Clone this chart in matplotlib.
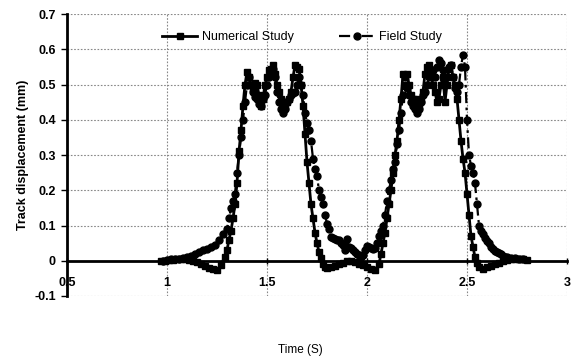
import matplotlib
matplotlib.use("Agg")
import matplotlib.pyplot as plt
from matplotlib import font_manager

fams = [f.name for f in font_manager.fontManager.ttflist]
main_font = "Liberation Sans Narrow" if "Liberation Sans Narrow" in fams else "Liberation Sans"
plt.rcParams['font.family'] = [main_font, 'DejaVu Sans']

num_t = [0.97, 0.99, 1.01, 1.03, 1.05, 1.07, 1.09, 1.11, 1.13, 1.15, 1.17, 1.19, 1.21, 1.23, 1.25, 1.27,
         1.29, 1.30, 1.31, 1.32, 1.33, 1.34, 1.35, 1.36, 1.37, 1.38, 1.39, 1.40, 1.41, 1.42, 1.43, 1.44,
         1.45, 1.46, 1.47, 1.48, 1.49, 1.50, 1.51, 1.52, 1.53, 1.54, 1.55, 1.56, 1.57, 1.58, 1.59, 1.60,
         1.61, 1.62, 1.63, 1.64, 1.65, 1.66, 1.67, 1.68, 1.69, 1.70, 1.71, 1.72, 1.73, 1.74, 1.75, 1.76,
         1.77, 1.78, 1.79, 1.80, 1.82, 1.84, 1.86, 1.88, 1.90, 1.92, 1.94, 1.96, 1.98, 2.00, 2.02, 2.04,
         2.06, 2.07, 2.08, 2.09, 2.10, 2.11, 2.12, 2.13, 2.14, 2.15, 2.16, 2.17, 2.18, 2.19, 2.20, 2.21,
         2.22, 2.23, 2.24, 2.25, 2.26, 2.27, 2.28, 2.29, 2.30, 2.31, 2.32, 2.33, 2.34, 2.35, 2.36, 2.37,
         2.38, 2.39, 2.40, 2.41, 2.42, 2.43, 2.44, 2.45, 2.46, 2.47, 2.48, 2.49, 2.50, 2.51, 2.52, 2.53,
         2.54, 2.55, 2.56, 2.58, 2.60, 2.62, 2.64, 2.66, 2.68, 2.70, 2.72, 2.74, 2.76, 2.78, 2.80]
num_v = [0.0, 0.0, 0.002, 0.003, 0.004, 0.005, 0.005, 0.003, 0.0, -0.004, -0.008, -0.014, -0.02, -0.024, -0.026, -0.012,
         0.012, 0.03, 0.06, 0.085, 0.12, 0.16, 0.22, 0.31, 0.37, 0.44, 0.50, 0.535, 0.52, 0.50, 0.49, 0.505,
         0.50, 0.47, 0.44, 0.46, 0.50, 0.52, 0.54, 0.545, 0.555, 0.53, 0.50, 0.48, 0.46, 0.44, 0.435, 0.45,
         0.46, 0.48, 0.52, 0.555, 0.55, 0.545, 0.50, 0.44, 0.36, 0.28, 0.22, 0.16, 0.12, 0.08, 0.05, 0.025,
         0.008, -0.008, -0.018, -0.02, -0.018, -0.014, -0.01, -0.006, -0.002, 0.0, -0.004, -0.008, -0.012, -0.018, -0.022, -0.025,
         -0.01, 0.02, 0.05, 0.08, 0.12, 0.16, 0.20, 0.25, 0.30, 0.34, 0.40, 0.46, 0.53, 0.52, 0.53, 0.50,
         0.47, 0.46, 0.45, 0.46, 0.44, 0.455, 0.48, 0.53, 0.55, 0.555, 0.53, 0.50, 0.48, 0.45, 0.46, 0.50,
         0.52, 0.45, 0.50, 0.545, 0.555, 0.52, 0.50, 0.46, 0.40, 0.34, 0.29, 0.25, 0.19, 0.13, 0.07, 0.04,
         0.01, -0.005, -0.018, -0.022, -0.018, -0.014, -0.01, -0.006, -0.002, 0.002, 0.004, 0.005, 0.004, 0.004, 0.003]

fld_t = [0.98, 1.00, 1.02, 1.04, 1.06, 1.08, 1.10, 1.12, 1.14, 1.16, 1.18, 1.20, 1.22, 1.24, 1.26, 1.28,
         1.30, 1.31, 1.32, 1.33, 1.34, 1.35, 1.36, 1.37, 1.38, 1.39, 1.40, 1.41, 1.42, 1.43, 1.44, 1.45,
         1.46, 1.47, 1.48, 1.49, 1.50, 1.51, 1.52, 1.53, 1.54, 1.55, 1.56, 1.57, 1.58, 1.59, 1.60, 1.61,
         1.62, 1.63, 1.64, 1.65, 1.66, 1.67, 1.68, 1.69, 1.70, 1.71, 1.72, 1.73, 1.74, 1.75, 1.76, 1.77,
         1.78, 1.79, 1.80, 1.81, 1.82, 1.83, 1.84, 1.85, 1.86, 1.87, 1.88, 1.89, 1.90, 1.91, 1.92, 1.93,
         1.94, 1.95, 1.96, 1.97, 1.98, 1.99, 2.00, 2.01, 2.02, 2.03, 2.04, 2.05, 2.06, 2.07, 2.08, 2.09,
         2.10, 2.11, 2.12, 2.13, 2.14, 2.15, 2.16, 2.17, 2.18, 2.19, 2.20, 2.21, 2.22, 2.23, 2.24, 2.25,
         2.26, 2.27, 2.28, 2.29, 2.30, 2.31, 2.32, 2.33, 2.34, 2.35, 2.36, 2.37, 2.38, 2.39, 2.40, 2.41,
         2.42, 2.43, 2.44, 2.45, 2.46, 2.47, 2.48, 2.49, 2.50, 2.51, 2.52, 2.53, 2.54, 2.55, 2.56, 2.57,
         2.58, 2.59, 2.60, 2.61, 2.62, 2.63, 2.64, 2.65, 2.66, 2.67, 2.68, 2.69, 2.70, 2.72, 2.74, 2.76, 2.78]
fld_v = [0.0, 0.002, 0.004, 0.005, 0.006, 0.008, 0.01, 0.014, 0.018, 0.024, 0.03, 0.034, 0.038, 0.045, 0.06, 0.075,
         0.09, 0.12, 0.15, 0.17, 0.19, 0.25, 0.30, 0.35, 0.40, 0.45, 0.50, 0.52, 0.50, 0.48, 0.465, 0.46,
         0.445, 0.44, 0.46, 0.47, 0.50, 0.52, 0.53, 0.545, 0.52, 0.48, 0.45, 0.43, 0.42, 0.43, 0.45, 0.46,
         0.47, 0.475, 0.48, 0.50, 0.52, 0.50, 0.47, 0.42, 0.39, 0.37, 0.34, 0.29, 0.26, 0.24, 0.20, 0.18,
         0.16, 0.13, 0.105, 0.09, 0.067, 0.065, 0.062, 0.06, 0.058, 0.05, 0.045, 0.03, 0.062, 0.04, 0.035, 0.03,
         0.026, 0.02, 0.015, 0.01, 0.015, 0.03, 0.042, 0.04, 0.035, 0.033, 0.035, 0.05, 0.07, 0.085, 0.10, 0.13,
         0.17, 0.20, 0.23, 0.26, 0.28, 0.33, 0.37, 0.42, 0.47, 0.50, 0.49, 0.47, 0.45, 0.44, 0.43, 0.42,
         0.43, 0.45, 0.47, 0.48, 0.50, 0.52, 0.53, 0.54, 0.52, 0.55, 0.57, 0.56, 0.54, 0.50, 0.52, 0.55,
         0.555, 0.52, 0.49, 0.48, 0.50, 0.55, 0.585, 0.55, 0.40, 0.30, 0.27, 0.25, 0.22, 0.16, 0.10, 0.085,
         0.075, 0.065, 0.055, 0.05, 0.04, 0.032, 0.028, 0.025, 0.022, 0.018, 0.014, 0.012, 0.01, 0.008, 0.007, 0.006, 0.005]

x_ticks = [0.5, 1, 1.5, 2, 2.5, 3]
x_tick_labels = ["0.5", "1", "1.5", "2", "2.5", "3"]
y_ticks = [-0.1, 0, 0.1, 0.2, 0.3, 0.4, 0.5, 0.6, 0.7]
y_tick_labels = ["-0.1", "0", "0.1", "0.2", "0.3", "0.4", "0.5", "0.6", "0.7"]

fig = plt.figure(figsize=(5.73, 3.57), dpi=100)
ax = fig.add_axes([67/573, 1 - 296/357, 500/573, 282/357])

ax.plot(num_t, num_v, color='black', lw=2.0, marker='s', ms=4.8, label='Numerical Study', zorder=3)
ax.plot(fld_t, fld_v, color='black', lw=1.6, ls=(0, (5, 2, 1.2, 2)), marker='o', ms=5.0,
        label='Field Study', zorder=3)

ax.set_xlim(0.5, 3)
ax.set_ylim(-0.1, 0.7)
ax.set_xticks(x_ticks)
ax.set_xticklabels(x_tick_labels)
ax.set_yticks(y_ticks)
ax.set_yticklabels(y_tick_labels)

ax.grid(True, color='#888888', ls=(0, (1.5, 1.5)), lw=0.8, zorder=0)
for s in ['top', 'right']:
    ax.spines[s].set_visible(False)
ax.spines['bottom'].set_position(('data', 0))
ax.spines['bottom'].set_linewidth(2)
ax.spines['left'].set_linewidth(2)
ax.spines['bottom'].set_zorder(2)

ax.tick_params(axis='x', direction='inout', length=5, width=1, pad=9, labelsize=9)
ax.tick_params(axis='y', direction='out', length=4, width=1, pad=4, labelsize=9)
for lab in ax.get_xticklabels() + ax.get_yticklabels():
    lab.set_fontweight('bold')

ax.set_ylabel('Track displacement (mm)', fontsize=9, fontweight='bold', labelpad=4)
fig.text(300/573, 1 - 350/357, 'Time (S)', ha='center', va='center', fontsize=8.5)

leg = ax.legend(loc='center', bbox_to_anchor=(235/500, 1 - 23/282), ncol=2, frameon=False,
                fontsize=9, handlelength=2.8, columnspacing=3.6, handletextpad=0.4)

fig.savefig('out.png', dpi=100)
